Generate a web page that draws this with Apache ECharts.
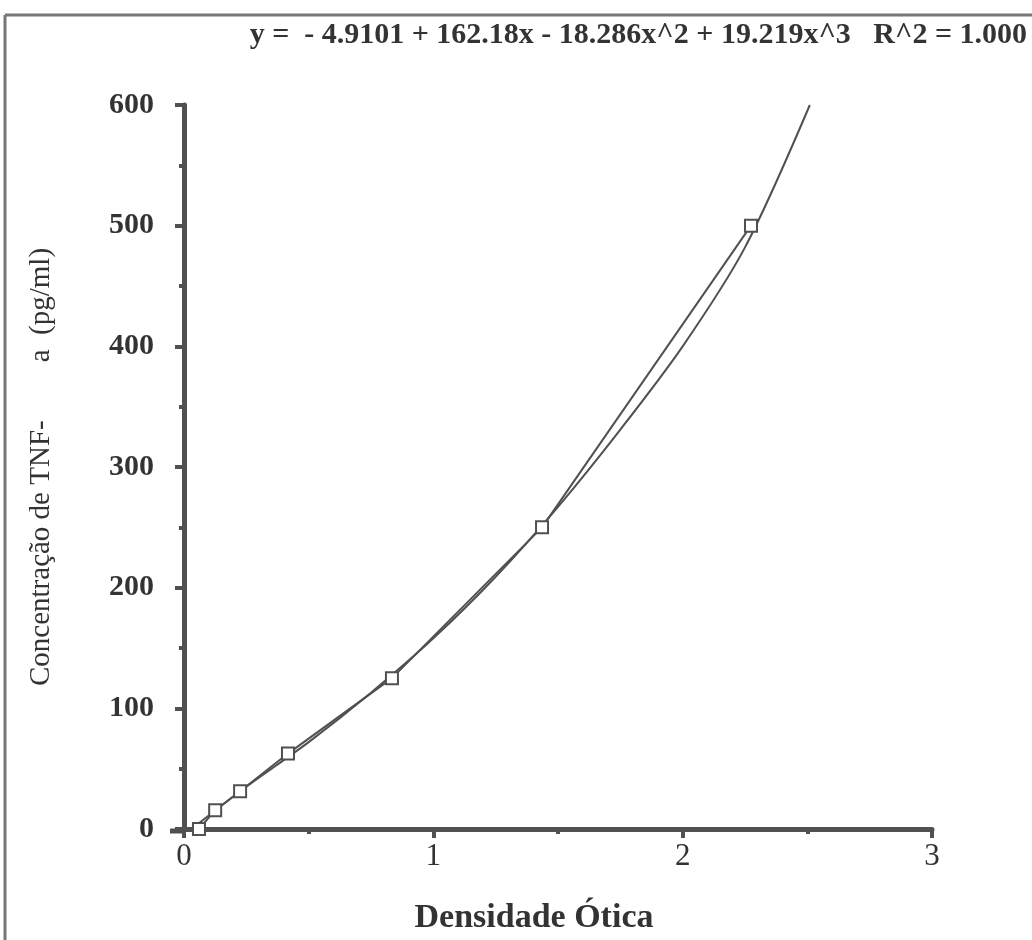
<!DOCTYPE html>
<html>
<head>
<meta charset="utf-8">
<script src="https://cdn.jsdelivr.net/npm/echarts@6/dist/echarts.min.js"></script>
<style>
  html, body { margin: 0; padding: 0; background: #fff; }
  #chart { width: 1032px; height: 940px; }
</style>
</head>
<body>
<div id="chart"></div>
<script>
// padrões medidos (densidade ótica, concentração pg/ml)
const padroesX = [0.06, 0.125, 0.225, 0.417, 0.834, 1.436, 2.274];
const padroesY = [0, 15.6, 31.25, 62.5, 125, 250, 500];

// curva ajustada
const ajusteX = [0.03, 0.25, 0.5, 0.75, 1.0, 1.25, 1.5, 1.75, 2.0, 2.25, 2.51];
const ajusteY = [0, 35, 72, 113, 158, 209, 267, 331, 400, 482, 600];

const equacao = "y =  - 4.9101 + 162.18x - 18.286x^2 + 19.219x^3   R^2 = 1.000";
const eixoX = "Densidade Ótica";
const eixoY = "Concentração de TNF-        a  (pg/ml)";

const cor = "#505050";
const serif = "Liberation Serif";

const chart = echarts.init(document.getElementById("chart"));

const option = {
  backgroundColor: "#fff",
  animation: false,
  grid: { left: 184, right: 100, top: 105, bottom: 109 },
  graphic: [
    // bordas da folha escaneada
    { type: "line", shape: { x1: 5, y1: 15, x2: 1032, y2: 15 }, style: { stroke: "#777", lineWidth: 3 } },
    { type: "line", shape: { x1: 5, y1: 15, x2: 5, y2: 940 }, style: { stroke: "#777", lineWidth: 3 } },
    // prolongamento do eixo x à esquerda do eixo y
    { type: "line", shape: { x1: 170, y1: 831, x2: 186, y2: 831 }, style: { stroke: cor, lineWidth: 5 } },
    {
      type: "text",
      right: 5,
      top: 20,
      style: { text: equacao, font: "bold 30px '" + serif + "'", fill: "#333" },
    },
  ],
  xAxis: {
    type: "value",
    min: 0,
    max: 3,
    interval: 1,
    name: eixoX,
    nameLocation: "middle",
    nameGap: 72,
    nameTextStyle: { fontFamily: serif, fontWeight: "bold", fontSize: 34, color: "#333", padding: [0, 48, 0, 0] },
    axisLine: { onZero: false, lineStyle: { color: cor, width: 5 } },
    axisTick: { length: 9, lineStyle: { color: cor, width: 4 } },
    minorTick: { show: true, splitNumber: 2, length: 5, lineStyle: { color: cor, width: 4 } },
    axisLabel: { fontFamily: serif, fontSize: 31, color: "#333", margin: 12 },
    splitLine: { show: false },
  },
  yAxis: {
    type: "value",
    min: 0,
    max: 600,
    interval: 100,
    name: eixoY,
    nameLocation: "middle",
    nameGap: 128,
    nameTextStyle: { fontFamily: serif, fontSize: 29, color: "#333" },
    axisLine: { onZero: false, lineStyle: { color: cor, width: 5 } },
    axisTick: { length: 9, lineStyle: { color: cor, width: 4 } },
    minorTick: { show: true, splitNumber: 2, length: 5, lineStyle: { color: cor, width: 4 } },
    axisLabel: { fontFamily: serif, fontWeight: "bold", fontSize: 30, color: "#333", margin: 30 },
    splitLine: { show: false },
  },
  series: [
    {
      type: "line",
      data: ajusteX.map((x, i) => [x, ajusteY[i]]),
      smooth: 0.3,
      showSymbol: false,
      lineStyle: { color: cor, width: 2 },
      z: 2,
    },
    {
      type: "line",
      data: padroesX.map((x, i) => [x, padroesY[i]]),
      symbol: "rect",
      symbolSize: 12,
      itemStyle: { color: "#fff", borderColor: cor, borderWidth: 2 },
      lineStyle: { color: cor, width: 2 },
      z: 3,
    },
  ],
};

chart.setOption(option);
</script>
</body>
</html>
